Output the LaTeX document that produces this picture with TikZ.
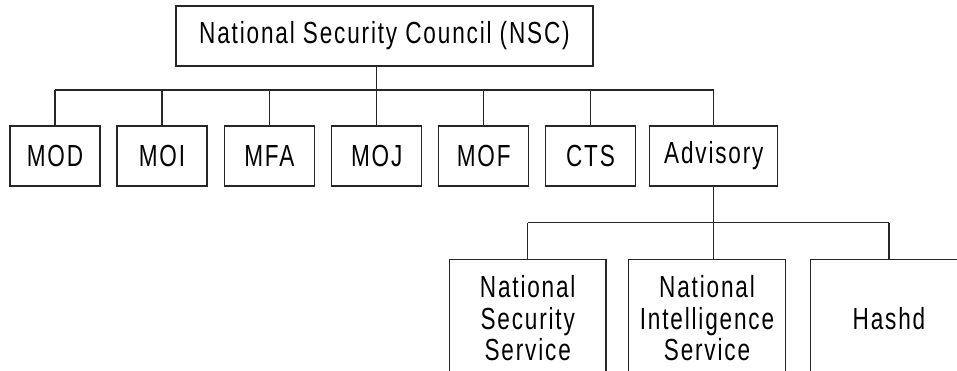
\documentclass[tikz,border=0pt]{standalone}
\usepackage{fontspec}
\setmainfont{Liberation Sans}[FakeStretch=0.74,LetterSpace=6]
\begin{document}
\begin{tikzpicture}[x=1pt,y=-1pt,
  box/.style={draw=black!85,line width=1.3pt,fill=white,inner sep=0pt,
    minimum height=60pt,align=center,font=\fontsize{30.5}{31.7}\selectfont},
  small/.style={box,minimum width=90pt},
  big/.style={box,minimum width=156.5pt,minimum height=118pt},
  wire/.style={draw=black!85,line width=1.3pt}]
\path[use as bounding box] (0,0) rectangle (957,371);
\clip (0,0) rectangle (957,371);
\node[box,minimum width=417pt] (nsc) at (384.5,36) {National Security Council (NSC)};
\node[small] (mod) at (55,156) {MOD};
\node[small] (moi) at (162,156) {MOI};
\node[small] (mfa) at (269.3,156) {MFA};
\node[small] (moj) at (376.7,156) {MOJ};
\node[small] (mof) at (483.7,156) {MOF};
\node[small] (cts) at (590.5,156) {CTS};
\node[box,minimum width=128pt] (adv) at (713.8,156) {Advisory};
\node[big] (nss) at (527.7,318.3) {National\\Security\\Service};
\node[big] (nis) at (707,318.3) {National\\Intelligence\\Service};
\node[big] (hashd) at (889,318.3) {Hashd};
\coordinate (bus) at (0,90);
\coordinate (bus2) at (0,222.7);
\draw[wire] (nsc.south -| moj.north) -- (moj.north);
\draw[wire] (bus -| mod.north) -- (bus -| adv.north);
\foreach \n in {mod,moi,mfa,mof,cts,adv}
  \draw[wire] (\n.north) -- (\n.north |- bus);
\draw[wire] (adv.south) -- (adv.south |- nis.north);
\draw[wire] (bus2 -| nss.north) -- (bus2 -| hashd.north);
\draw[wire] (nss.north) -- (nss.north |- bus2);
\draw[wire] (hashd.north) -- (hashd.north |- bus2);
\end{tikzpicture}
\end{document}
